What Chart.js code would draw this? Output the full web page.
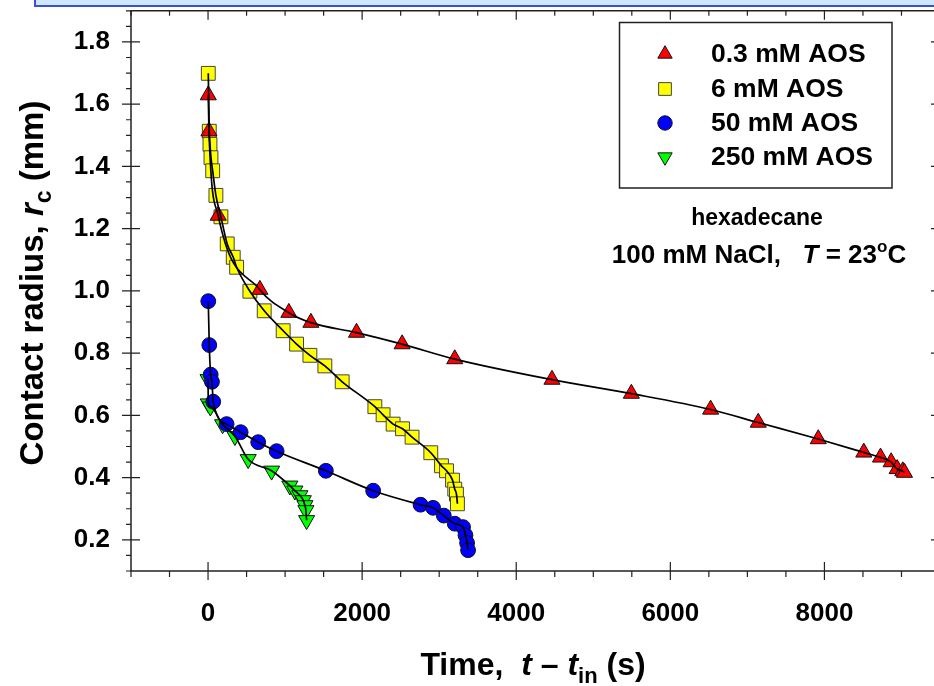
<!DOCTYPE html>
<html><head><meta charset="utf-8">
<script src="https://cdn.jsdelivr.net/npm/chart.js@4.4.0/dist/chart.umd.min.js"></script>
<style>
html,body{margin:0;padding:0;background:#fff;overflow:hidden;width:934px;height:686px;}
#wrap{position:relative;width:934px;height:686px;overflow:hidden;}
#c{position:absolute;left:0;top:0;}
#bar{position:absolute;left:34px;top:0;width:900px;height:5px;background:#cfe7fb;border-left:2px solid #3a4fd6;border-bottom:2px solid #3a4fd6;}
</style></head><body>
<div id="wrap"><canvas id="c" width="952" height="686"></canvas><div id="bar"></div></div>
<script>
const FONT = '"Liberation Sans", Arial, Helvetica, sans-serif';

// tick labels
const xTickValues = [0, 2000, 4000, 6000, 8000];
const yTickValues = [0.2, 0.4, 0.6, 0.8, 1.0, 1.2, 1.4, 1.6, 1.8];

// series names
const seriesNames = ['0.3 mM AOS', '6 mM AOS', '50 mM AOS', '250 mM AOS'];

// 0.3 mM AOS
const t03 = [3, 12, 132, 673, 1049, 1335, 1927, 2519, 3202, 4464, 5494, 6523, 7141, 7920, 8511, 8728, 8866, 8944, 9017, 9039];
const r03 = [1.629, 1.513, 1.242, 1.004, 0.930, 0.898, 0.866, 0.829, 0.781, 0.715, 0.670, 0.619, 0.577, 0.524, 0.481, 0.465, 0.450, 0.428, 0.421, 0.416];

// 6 mM AOS
const t6 = [3, 16, 25, 38, 60, 102, 167, 249, 327, 371, 543, 729, 975, 1149, 1322, 1516, 1741, 2165, 2272, 2402, 2524, 2648, 2891, 3030, 3095, 3173, 3202, 3224, 3237];
const r6 = [1.699, 1.513, 1.471, 1.428, 1.386, 1.307, 1.238, 1.151, 1.108, 1.076, 0.999, 0.936, 0.872, 0.829, 0.793, 0.759, 0.708, 0.628, 0.602, 0.572, 0.557, 0.530, 0.480, 0.438, 0.422, 0.392, 0.363, 0.347, 0.316];

// 50 mM AOS
const t50 = [3, 16, 34, 51, 67, 241, 423, 651, 890, 1529, 2143, 2758, 2921, 3060, 3202, 3310, 3341, 3362, 3375];
const r50 = [0.967, 0.826, 0.731, 0.708, 0.644, 0.572, 0.546, 0.514, 0.485, 0.422, 0.358, 0.313, 0.303, 0.278, 0.252, 0.241, 0.215, 0.190, 0.167];

// 250 mM AOS
const t250 = [0, 3, 30, 189, 349, 521, 825, 1062, 1127, 1192, 1236, 1257, 1270, 1279];
const r250 = [0.716, 0.638, 0.628, 0.571, 0.533, 0.459, 0.422, 0.374, 0.358, 0.343, 0.327, 0.311, 0.295, 0.263];

const pts = (t, r) => t.map((v, i) => ({x: v, y: r[i]}));

const markerStyles = [
  {shape: 'triangle', rot: 0, fill: '#ff0000', stroke: '#111', r: 9.3},
  {shape: 'rect', rot: 0, fill: '#ffff00', stroke: '#444', r: 9.8},
  {shape: 'circle', rot: 0, fill: '#0000ff', stroke: '#111', r: 7.4},
  {shape: 'triangle', rot: 180, fill: '#00ff00', stroke: '#111', r: 9.3}
];
const seriesData = [pts(t03, r03), pts(t6, r6), pts(t50, r50), pts(t250, r250)];

const datasets = [];
seriesData.forEach((d, i) => {
  const m = markerStyles[i];
  datasets.push({
    label: seriesNames[i], data: d, showLine: false, order: 1,
    pointStyle: m.shape, rotation: m.rot, pointRadius: m.r, pointHoverRadius: m.r,
    pointBackgroundColor: m.fill, pointBorderColor: m.stroke, pointBorderWidth: 1
  });
});
seriesData.forEach((d, i) => {
  datasets.push({
    label: seriesNames[i] + ' fit', data: d, showLine: true, order: 0,
    pointRadius: 0, borderColor: '#000', borderWidth: 1.7,
    cubicInterpolationMode: 'monotone', fill: false
  });
});

function shape(ctx, kind, rot, x, y, r) {
  ctx.beginPath();
  if (kind === 'circle') {
    ctx.arc(x, y, r, 0, Math.PI * 2);
  } else if (kind === 'rect') {
    const s = r * Math.SQRT1_2;
    ctx.rect(x - s, y - s, 2 * s, 2 * s);
  } else {
    const d = rot ? -1 : 1;
    ctx.moveTo(x, y - d * r);
    ctx.lineTo(x + 0.866 * r, y + d * 0.5 * r);
    ctx.lineTo(x - 0.866 * r, y + d * 0.5 * r);
    ctx.closePath();
  }
}

function drawRich(ctx, pieces, x, y, align) {
  // pieces: [text, size, italic, dy]
  let total = 0;
  pieces.forEach(p => { ctx.font = (p[2] ? 'italic ' : '') + 'bold ' + p[1] + 'px ' + FONT; total += ctx.measureText(p[0]).width; });
  let cx = align === 'center' ? x - total / 2 : x;
  ctx.textAlign = 'left';
  ctx.textBaseline = 'alphabetic';
  pieces.forEach(p => {
    ctx.font = (p[2] ? 'italic ' : '') + 'bold ' + p[1] + 'px ' + FONT;
    ctx.fillText(p[0], cx, y + (p[3] || 0));
    cx += ctx.measureText(p[0]).width;
  });
}

const framePlugin = {
  id: 'frame',
  beforeDatasetsDraw(chart) {
    const ctx = chart.ctx, a = chart.chartArea;
    const xs = chart.scales.x, ys = chart.scales.y;
    ctx.save();
    ctx.strokeStyle = '#222';
    ctx.lineWidth = 1.5;
    ctx.beginPath();
    ctx.rect(a.left, a.top, a.right - a.left, a.bottom - a.top);
    ctx.stroke();
    ctx.lineWidth = 1.2;
    ctx.beginPath();
    for (let v = xs.min; v <= xs.max + 1e-6; v += 500) {
      const px = xs.getPixelForValue(v);
      const major = Math.abs(v % 2000) < 1e-6;
      if (major) {
        ctx.moveTo(px, a.bottom - 9); ctx.lineTo(px, a.bottom + 9);
        ctx.moveTo(px, a.top); ctx.lineTo(px, a.top + 9);
      } else {
        ctx.moveTo(px, a.bottom); ctx.lineTo(px, a.bottom + 6);
        ctx.moveTo(px, a.top); ctx.lineTo(px, a.top + 5);
      }
    }
    for (let k = 0; k <= 36; k++) {
      const v = ys.min + k * 0.05;
      const py = ys.getPixelForValue(v);
      const major = (k % 4) === 2;
      if (major) {
        ctx.moveTo(a.left - 9, py); ctx.lineTo(a.left + 9, py);
        ctx.moveTo(a.right - 9, py); ctx.lineTo(a.right + 9, py);
      } else {
        ctx.moveTo(a.left - 5, py); ctx.lineTo(a.left, py);
        ctx.moveTo(a.right, py); ctx.lineTo(a.right + 5, py);
      }
    }
    ctx.stroke();
    ctx.restore();
  },
  afterDraw(chart) {
    const ctx = chart.ctx;
    ctx.save();
    // legend
    ctx.fillStyle = '#fff';
    ctx.fillRect(619.5, 22.5, 272.5, 165.5);
    ctx.strokeStyle = '#222';
    ctx.lineWidth = 1.5;
    ctx.strokeRect(619.5, 22.5, 272.5, 165.5);
    const rowsY = [54, 89, 123, 157];
    const legR = [8.3, 9, 7.2, 8.3];
    markerStyles.forEach((m, i) => {
      shape(ctx, m.shape, m.rot, 665, rowsY[i], legR[i]);
      ctx.fillStyle = m.fill; ctx.fill();
      ctx.strokeStyle = m.stroke; ctx.lineWidth = 1; ctx.stroke();
      ctx.fillStyle = '#000';
      ctx.font = 'bold 26.5px ' + FONT;
      ctx.textAlign = 'left'; ctx.textBaseline = 'middle';
      ctx.fillText(seriesNames[i], 711, rowsY[i] + 1);
    });
    // annotation
    ctx.fillStyle = '#000';
    drawRich(ctx, [['hexadecane', 23, false]], 757, 225, 'center');
    drawRich(ctx, [['100 mM NaCl,   ', 26, false], ['T', 26, true], [' = 23', 26, false], ['o', 17, false, -11], ['C', 26, false]], 759, 263, 'center');
    // x title
    drawRich(ctx, [['Time,  ', 32, false], ['t', 32, true], [' \u2013 ', 32, false], ['t', 32, true], ['in', 22, false, 8], [' (s)', 32, false]], 533, 675, 'center');
    // y title
    ctx.save();
    ctx.translate(43, 283);
    ctx.rotate(-Math.PI / 2);
    drawRich(ctx, [['Contact radius, ', 33, false], ['r', 33, true], ['c', 23, false, 8], [' (mm)', 33, false]], 0, 0, 'center');
    ctx.restore();
    ctx.restore();
  }
};

new Chart(document.getElementById('c'), {
  type: 'scatter',
  data: {datasets},
  plugins: [framePlugin],
  options: {
    responsive: false,
    animation: false,
    events: [],
    layout: {padding: {left: 0, right: 12, top: 5, bottom: 0}},
    plugins: {legend: {display: false}, tooltip: {enabled: false}},
    scales: {
      x: {
        type: 'linear', position: 'bottom', min: -1000, max: 9500,
        grid: {display: false, drawTicks: false}, border: {display: false},
        afterBuildTicks: s => { s.ticks = xTickValues.map(v => ({value: v})); },
        afterFit: s => { s.height = 115; s.paddingLeft = 0; s.paddingRight = 0; },
        ticks: {font: {family: FONT, size: 26, weight: 'bold'}, color: '#000', padding: 27, maxRotation: 0, autoSkip: false, callback: v => String(v)}
      },
      y: {
        type: 'linear', position: 'left', min: 0.1, max: 1.9,
        grid: {display: false, drawTicks: false}, border: {display: false},
        afterBuildTicks: s => { s.ticks = yTickValues.map(v => ({value: v})); },
        afterFit: s => { s.width = 131; s.paddingTop = 0; s.paddingBottom = 0; },
        ticks: {font: {family: FONT, size: 26, weight: 'bold'}, color: '#000', padding: 21, autoSkip: false, callback: v => Number(v).toFixed(1)}
      }
    }
  }
});
</script>
</body></html>
